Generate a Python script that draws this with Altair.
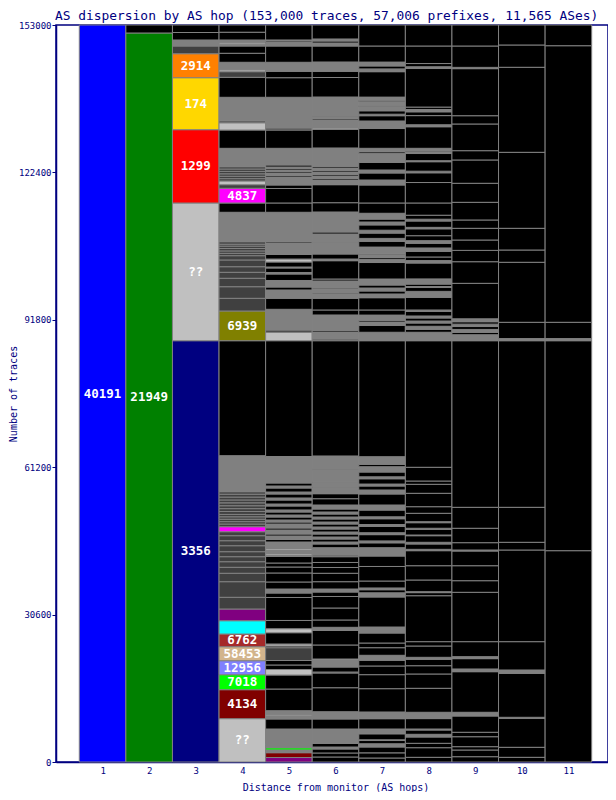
import altair as alt
import pandas as pd

# ---------------- data (trace counts in thousands; segment tops, bottom -> top) -------------
HOPS = list(range(1, 12))
TITLE = "AS dispersion by AS hop (153,000 traces, 57,006 prefixes, 11,565 ASes)"

COL1 = [(153.0, "40191")]
COL2 = [(151.34, "21949"), (153.0, "end")]
COL3 = [(87.46, "3356"), (116.05, "unknown"), (131.27, "1299"), (142.06, "174"), (147.04, "2914"),
        (148.64, "mixed"), (149.89, "other"), (151.44, "end"), (153.0, "end")]
COL4 = [(9.0, "unknown"), (15.01, "4134"), (18.12, "7018"), (21.03, "12956"), (23.94, "58453"),
        (26.57, "6762"), (29.33, "asB"), (31.76, "asA"),
        (34.19, "mixed"), (37.43, "mixed"), (39.18, "mixed"), (40.42, "mixed"), (41.58, "mixed"),
        (42.62, "mixed"), (43.66, "mixed"), (44.90, "mixed"), (45.94, "mixed"), (46.98, "mixed"),
        (47.81, "mixed"), (48.85, "4837"),
        (49.4, "mixed"), (49.9, "mixed"), (50.4, "mixed"), (50.9, "mixed"), (51.4, "mixed"),
        (52.0, "mixed"), (52.6, "mixed"), (53.2, "mixed"), (53.8, "mixed"), (54.4, "mixed"),
        (55.0, "mixed"), (55.6, "mixed"), (56.11, "mixed"),
        (63.59, "other"), (87.46, "end"), (93.63, "6939"),
        (96.26, "mixed"), (98.67, "mixed"), (100.42, "mixed"), (101.66, "mixed"), (102.82, "mixed"),
        (104.22, "mixed"), (105.11, "mixed"), (105.6, "mixed"), (106.1, "mixed"), (106.6, "mixed"),
        (107.1, "mixed"), (107.5, "mixed"), (108.01, "mixed"),
        (114.12, "other"), (116.05, "end"), (119.10, "4837"), (119.85, "mixed"), (120.62, "unknown"),
        (121.1, "mixed"), (121.6, "mixed"), (122.1, "mixed"), (122.6, "mixed"), (123.1, "mixed"),
        (123.58, "mixed"), (127.40, "other"), (131.20, "end"), (132.7, "unknown"), (133.1, "mixed"),
        (137.99, "other"), (142.14, "end"), (143.31, "mixed"), (143.7, "unknown"), (145.26, "other"),
        (147.13, "end"), (148.64, "end"), (149.0, "other"), (149.3, "unknown"), (149.89, "other"),
        (151.5, "end"), (153.0, "end")]
COL5 = [(0.93, "asA"), (1.93, "4134"), (2.49, "other"), (2.97, "7018"), (3.63, "other"), (3.84, "asB"),
        (6.85, "other"), (8.93, "end"), (9.6, "other"), (9.9, "unknown"), (10.65, "other"),
        (15.15, "end"), (18.06, "end"), (19.20, "unknown"), (20.14, "end"), (21.07, "end"),
        (23.73, "mixed"), (24.08, "end"), (24.50, "unknown"), (26.84, "end"), (27.67, "unknown"),
        (29.38, "end"), (34.15, "end"), (35.08, "end"), (35.91, "other"), (37.37, "end"),
        (39.24, "end"), (40.48, "end"), (41.31, "end"), (42.66, "end"), (42.97, "other"),
        (43.28, "unknown"), (44.01, "other"), (44.32, "unknown"), (45.67, "other"), (46.19, "end"),
        (46.92, "other"), (47.33, "end"), (48.16, "other"), (48.58, "end"), (49.41, "other"),
        (49.82, "end"), (50.24, "other"), (50.86, "end"), (51.28, "other"), (51.90, "end"),
        (52.32, "other"), (53.15, "end"), (53.56, "other"), (54.39, "end"), (54.81, "other"),
        (55.64, "end"), (56.05, "other"), (56.88, "end"), (57.30, "other"), (57.92, "end"),
        (63.42, "other"), (87.46, "end"), (89.21, "unknown"), (89.68, "mixed"), (93.98, "other"),
        (96.27, "end"), (97.99, "other"), (98.61, "end"), (99.96, "other"), (101.31, "end"),
        (101.62, "other"), (102.56, "end"), (102.76, "other"), (103.80, "end"), (104.42, "unknown"),
        (105.36, "end"), (107.74, "other"), (108.01, "end"), (114.12, "other"), (116.05, "end"),
        (119.06, "end"), (119.79, "end"), (120.82, "other"), (121.45, "other"), (121.76, "end"),
        (122.28, "other"), (122.59, "end"), (122.90, "other"), (123.21, "end"), (123.52, "other"),
        (123.94, "end"), (127.40, "other"), (131.20, "end"), (131.62, "mixed"), (137.99, "other"),
        (142.06, "end"), (143.39, "end"), (145.26, "other"), (148.64, "end"), (149.37, "other"),
        (149.68, "end"), (149.89, "other"), (153.0, "end")]
COL6 = [(1.04, "end"), (1.87, "end"), (2.70, "end"), (3.11, "other"), (3.84, "end"), (6.85, "other"),
        (8.93, "end"), (10.44, "other"), (15.42, "end"), (18.48, "end"), (18.68, "mixed"),
        (19.72, "end"), (21.18, "other"), (21.38, "unknown"), (24.29, "end"), (27.30, "end"),
        (27.96, "other"), (29.48, "end"), (31.97, "end"), (34.36, "end"), (35.29, "end"),
        (35.91, "other"), (37.43, "end"), (39.18, "end"), (40.38, "end"), (41.42, "end"),
        (42.62, "end"), (42.97, "mixed"), (44.49, "other"),
        (45.26, "end"), (45.67, "other"), (46.29, "end"), (46.71, "other"), (47.33, "end"),
        (47.75, "other"), (48.37, "end"), (48.79, "other"), (49.41, "end"), (49.82, "other"),
        (50.45, "end"), (50.86, "other"), (51.48, "end"), (51.90, "other"), (52.52, "end"),
        (53.35, "other"), (54.66, "end"), (55.70, "end"), (56.99, "other"), (57.19, "end"),
        (58.02, "other"), (58.17, "end"), (60.62, "other"), (60.79, "end"), (63.53, "other"),
        (87.46, "end"), (87.81, "mixed"), (89.27, "other"), (89.58, "end"), (92.80, "other"),
        (93.84, "end"), (96.27, "end"), (97.16, "other"), (97.36, "end"), (98.19, "other"),
        (98.40, "end"), (99.86, "other"), (100.27, "end"), (104.07, "end"), (104.42, "other"),
        (105.46, "end"), (107.74, "other"), (107.89, "end"), (109.61, "other"), (110.03, "end"),
        (114.18, "other"), (116.11, "end"), (119.85, "end"), (120.82, "other"), (121.13, "end"),
        (121.65, "other"), (121.97, "end"), (122.48, "other"), (122.80, "end"), (123.31, "other"),
        (123.63, "end"), (127.47, "other"), (131.31, "end"), (131.62, "unknown"), (133.28, "other"),
        (133.55, "end"), (133.90, "other"), (134.07, "end"), (138.05, "other"), (142.10, "end"),
        (143.39, "end"), (145.32, "other"), (148.64, "end"), (149.26, "other"), (149.68, "end"),
        (150.10, "other"), (153.0, "end")]
COL7 = [(0.83, "end"), (1.90, "end"), (3.12, "end"), (3.78, "other"), (4.46, "end"), (4.61, "other"),
        (5.85, "end"), (6.85, "other"), (8.99, "end"), (10.38, "other"), (15.22, "end"),
        (18.13, "end"), (19.93, "end"), (21.14, "end"), (22.15, "other"), (23.73, "end"),
        (24.70, "end"), (26.78, "end"), (28.02, "other"), (34.26, "end"), (35.12, "other"),
        (35.76, "end"), (36.13, "other"), (37.57, "end"), (40.59, "end"), (42.76, "end"),
        (44.49, "other"), (45.5, "end"), (45.9, "other"), (47.2, "end"), (47.6, "other"),
        (48.9, "end"), (49.3, "other"), (50.5, "end"), (50.9, "other"), (52.3, "end"),
        (53.35, "other"), (55.64, "end"), (56.47, "other"), (57.3, "end"), (57.7, "other"),
        (58.8, "end"), (59.2, "other"), (60.2, "end"), (61.3, "other"), (61.8, "end"),
        (63.38, "other"), (87.46, "end"), (89.21, "other"), (90.63, "end"), (91.34, "other"),
        (91.71, "end"), (92.78, "other"), (93.84, "end"), (96.39, "end"), (97.16, "other"),
        (97.78, "end"), (98.40, "other"), (99.02, "end"), (100.27, "other"), (103.69, "end"),
        (104.3, "other"), (104.7, "end"), (105.3, "other"), (105.5, "end"), (106.9, "other"),
        (108.1, "end"), (108.7, "other"), (109.8, "end"), (110.4, "other"), (111.5, "end"),
        (112.1, "other"), (112.7, "end"), (113.91, "other"), (116.05, "end"), (119.79, "end"),
        (120.82, "other"), (122.28, "end"), (122.90, "other"), (124.46, "end"), (126.37, "other"),
        (126.70, "end"), (127.40, "other"), (131.51, "end"), (133.07, "other"), (134.17, "end"),
        (134.48, "other"), (135.19, "end"), (136.06, "other"), (136.31, "end"), (137.08, "other"),
        (137.39, "end"), (138.03, "other"), (143.31, "end"), (143.89, "other"), (144.5, "end"),
        (145.30, "other"), (148.64, "end"), (153.0, "end")]
COL8 = [(0.97, "end"), (2.97, "end"), (3.88, "end"), (5.19, "end"), (5.75, "other"), (6.64, "end"),
        (6.85, "other"), (9.01, "end"), (10.32, "other"), (15.30, "end"), (18.27, "end"),
        (19.99, "end"), (21.33, "end"), (21.73, "other"), (24.08, "end"), (24.98, "end"),
        (34.52, "end"), (35.16, "end"), (35.36, "other"), (37.78, "end"), (40.75, "end"),
        (43.87, "end"), (44.15, "other"), (45.26, "end"), (45.61, "other"), (46.98, "end"),
        (47.12, "other"), (48.31, "end"), (48.52, "other"), (49.68, "end"), (49.89, "other"),
        (51.63, "end"), (53.0, "end"), (55.78, "end"), (57.65, "end"), (58.33, "end"),
        (61.18, "end"), (87.46, "end"), (89.21, "other"), (89.83, "end"), (90.46, "other"),
        (91.13, "end"), (91.55, "other"), (92.18, "end"), (92.59, "other"), (93.53, "end"),
        (93.84, "other"), (96.48, "end"), (97.70, "other"), (98.50, "end"), (98.71, "other"),
        (99.21, "end"), (100.29, "other"), (103.59, "end"), (104.09, "other"), (104.84, "end"),
        (106.01, "end"), (106.71, "other"), (107.70, "end"), (108.23, "other"), (109.26, "end"),
        (110.69, "end"), (110.99, "other"), (112.31, "end"), (112.68, "other"), (113.51, "end"),
        (116.05, "end"), (120.3, "end"), (122.32, "end"), (122.65, "other"), (124.62, "end"),
        (124.83, "other"), (126.32, "end"), (126.70, "other"), (126.95, "end"), (127.40, "other"),
        (131.88, "end"), (132.29, "other"), (134.19, "end"), (134.98, "end"), (135.46, "other"),
        (135.96, "end"), (143.99, "end"), (144.33, "other"), (145.0, "end"), (148.64, "end"),
        (153.0, "end")]
COL9 = [(1.10, "end"), (2.49, "end"), (3.18, "end"), (5.25, "end"), (6.17, "end"), (9.55, "end"),
        (10.32, "other"), (18.75, "end"), (19.31, "other"), (21.46, "end"), (21.87, "other"),
        (24.98, "end"), (35.23, "end"), (37.64, "end"), (40.75, "end"), (43.80, "end"),
        (44.01, "other"), (45.53, "end"), (48.52, "end"), (52.87, "end"), (87.46, "end"),
        (88.7, "other"), (89.2, "end"), (89.8, "other"), (90.4, "end"), (90.9, "other"),
        (91.4, "end"), (92.0, "other"), (99.37, "end"), (103.86, "end"), (106.21, "end"),
        (108.36, "end"), (110.79, "end"), (112.52, "end"), (116.19, "end"), (120.14, "end"),
        (124.98, "end"), (126.91, "end"), (132.45, "end"), (134.17, "end"), (143.94, "end"),
        (144.2, "other"), (148.64, "end"), (153.0, "end")]
COL10 = [(0.97, "end"), (3.05, "end"), (9.07, "end"), (9.28, "other"), (18.41, "end"), (19.10, "other"),
         (24.98, "end"), (44.01, "end"), (45.61, "end"), (52.87, "end"), (87.46, "end"),
         (87.9, "other"), (91.28, "end"), (103.74, "end"), (106.29, "end"), (110.79, "end"),
         (126.57, "end"), (144.22, "end"), (148.85, "end"), (153.0, "end")]
COL11 = [(43.87, "end"), (87.46, "end"), (87.9, "other"), (91.28, "end"), (148.7, "end"), (153.0, "end")]

COLUMNS = [COL1, COL2, COL3, COL4, COL5, COL6, COL7, COL8, COL9, COL10, COL11]

CATEGORIES = ["40191", "21949", "3356", "1299", "174", "2914", "4837", "6939", "6762", "58453",
              "12956", "7018", "4134", "asA", "asB", "unknown", "other", "mixed", "end"]
CAT_COLORS = ["#0000FF", "#008000", "#000080", "#FF0000", "#FFD700", "#FF8000", "#FF00FF", "#808000",
              "#A52A2A", "#D2B48C", "#8080FF", "#00FF00", "#800000", "#800080", "#00FFFF",
              "#C0C0C0", "#808080", "#404040", "#000000"]
LABELS = {"40191": "40191", "21949": "21949", "3356": "3356", "1299": "1299", "174": "174",
          "2914": "2914", "4837": "4837", "6939": "6939", "6762": "6762", "58453": "58453",
          "12956": "12956", "7018": "7018", "4134": "4134", "unknown": "??"}
Y_TICKS = [0, 30600, 61200, 91800, 122400, 153000]

rows = []
for hop, segs in zip(HOPS, COLUMNS):
    lo = 0.0
    for top, cat in segs:
        lab = LABELS.get(cat, "") if (top - lo) > 2.0 else ""
        rows.append(dict(x0=hop - 0.5, x1=hop + 0.5, xc=hop, y0=lo * 1000, y1=top * 1000,
                         ym=(lo + top) * 500, cat=cat, label=lab))
        lo = top
df = pd.DataFrame(rows)

NAVY = "#000080"
FONT = "DejaVu Sans Mono"
XT = "Distance from monitor (AS hops)"
YT = "Number of traces"
xscale = alt.Scale(domain=[0, 11.85], nice=False, zero=False)
yscale = alt.Scale(domain=[0, 153000], nice=False)

rect = alt.Chart(df).mark_rect(stroke="#808080", strokeWidth=1).encode(
    x=alt.X("x0:Q", scale=xscale, title=XT,
            axis=alt.Axis(values=HOPS, ticks=False, grid=False, labelFont=FONT, labelFontSize=9,
                          labelColor=NAVY, labelPadding=4, domainColor=NAVY, domainWidth=1.5,
                          titleFont=FONT, titleFontSize=10, titleColor=NAVY, titleFontWeight="normal",
                          titleX=279.5, titleY=28, titleBaseline="alphabetic", titleAlign="center")),
    x2="x1",
    y=alt.Y("y0:Q", scale=yscale, title=YT,
            axis=alt.Axis(values=Y_TICKS, format="d", grid=False, tickSize=4, tickColor=NAVY,
                          labelFont=FONT, labelFontSize=9, labelColor=NAVY, labelPadding=1,
                          domainColor=NAVY, domainWidth=1.5, titleFont=FONT, titleFontSize=10,
                          titleColor=NAVY, titleFontWeight="normal", titleAngle=270,
                          titleX=-43, titleY=368.5, titleAlign="center", titleBaseline="middle")),
    y2="y1",
    color=alt.Color("cat:N", scale=alt.Scale(domain=CATEGORIES, range=CAT_COLORS), legend=None),
)

text = alt.Chart(df[df["label"] != ""]).mark_text(
    color="white", font=FONT, fontWeight="bold", fontSize=12.5, baseline="middle", align="center"
).encode(
    x=alt.X("xc:Q", scale=xscale, title=XT),
    y=alt.Y("ym:Q", scale=yscale, title=YT),
    text="label:N",
)

title = alt.Chart(pd.DataFrame({"t": [TITLE]})).mark_text(
    font=FONT, fontSize=12.9, color=NAVY, align="left", baseline="alphabetic"
).encode(x=alt.value(-1), y=alt.value(-5.5), text="t:N")

chart = alt.layer(rect, text, title).properties(
    width=552, height=737,
    padding={"left": 48, "top": 17, "right": 0, "bottom": 30},
    autosize=alt.AutoSizeParams(type="none"),
).configure_view(stroke=NAVY, strokeWidth=1.5)

chart.save("out.html", embed_options={"renderer": "svg", "actions": False})
